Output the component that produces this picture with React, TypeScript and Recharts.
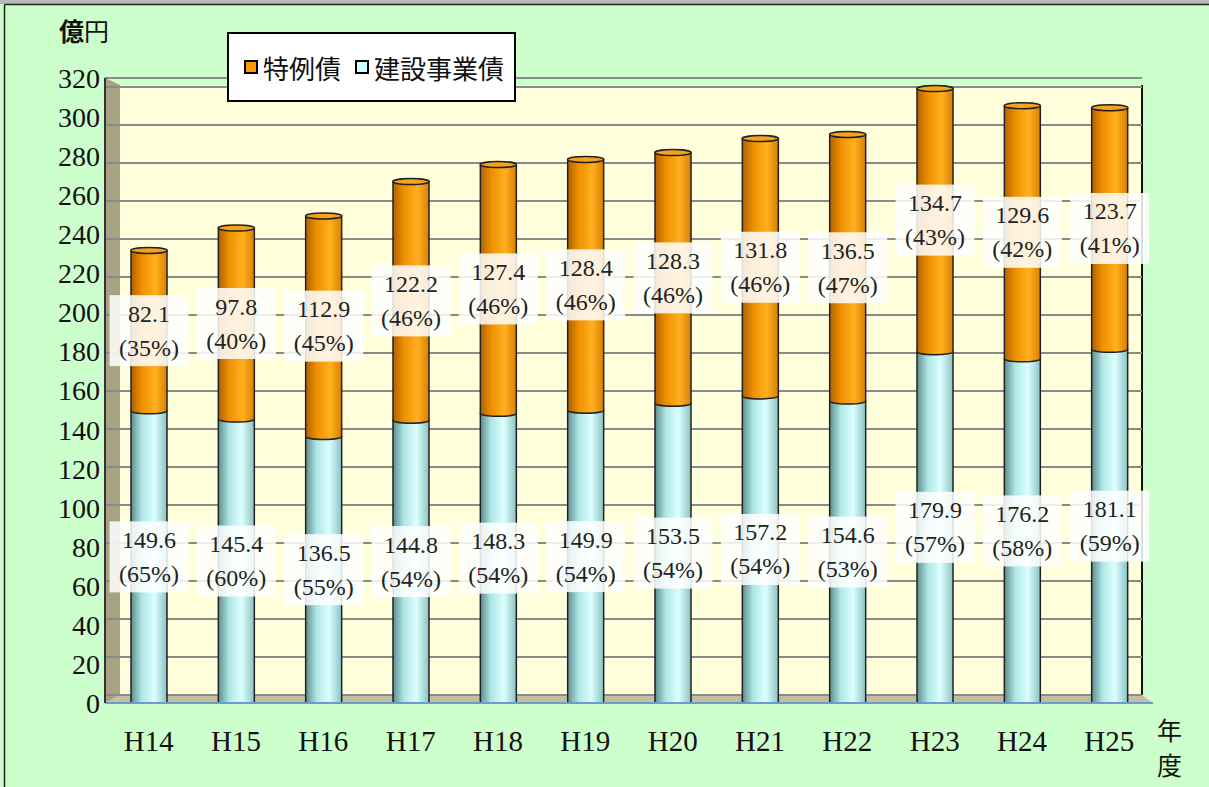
import { BarChart, Bar, XAxis, YAxis, CartesianGrid, Legend, LabelList } from 'recharts';

const categories = ['H14', 'H15', 'H16', 'H17', 'H18', 'H19', 'H20', 'H21', 'H22', 'H23', 'H24', 'H25'];
const kensetsu = [149.6, 145.4, 136.5, 144.8, 148.3, 149.9, 153.5, 157.2, 154.6, 179.9, 176.2, 181.1];
const tokurei = [82.1, 97.8, 112.9, 122.2, 127.4, 128.4, 128.3, 131.8, 136.5, 134.7, 129.6, 123.7];
const kensetsuPct = [65, 60, 55, 54, 54, 54, 54, 54, 53, 57, 58, 59];
const tokureiPct = [35, 40, 45, 46, 46, 46, 46, 46, 47, 43, 42, 41];
const yTicks = [0, 20, 40, 60, 80, 100, 120, 140, 160, 180, 200, 220, 240, 260, 280, 300, 320];
const legendItems = [
  { name: '特例債', color: '#ff9900' },
  { name: '建設事業債', color: '#ccffff' },
];

const data = categories.map((name, i) => ({
  name,
  kensetsu: kensetsu[i],
  tokurei: tokurei[i],
}));

const W = 1209;
const H = 787;
const SERIF = '"Liberation Serif", "DejaVu Serif", serif';
const CJK = '"Noto Sans CJK JP", "Noto Sans", sans-serif';

// cylinder-ish bar body
const Cylinder = (props: any) => {
  const { x, y, width: w, height: h, fill, cap } = props;
  if (!w || !h) return null;
  const ry = 3;
  const d = `M${x},${y} L${x},${y + h} A${w / 2},${ry} 0 0 0 ${x + w},${y + h} L${x + w},${y} Z`;
  return (
    <g>
      <path d={d} fill={fill} stroke="#222" strokeWidth={1.5} />
      {cap && <ellipse cx={x + w / 2} cy={y} rx={w / 2} ry={ry} fill="#f7a21c" stroke="#222" strokeWidth={1.5} />}
    </g>
  );
};

const makeLabel = (pcts: number[]) => (props: any) => {
  const vb = props.viewBox ?? props;
  const x = vb.x ?? props.x;
  const y = vb.y ?? props.y;
  const w = vb.width ?? props.width;
  const h = vb.height ?? props.height;
  const cx = x + w / 2;
  const cy = y + h / 2;
  const idx = props.index;
  const ts = { fontFamily: SERIF, fontSize: 24 };
  return (
    <g>
      <rect x={cx - 39.5} y={cy - 35.5} width={79} height={71} fill="#ffffff" fillOpacity={0.86} />
      <text x={cx} y={cy - 9} textAnchor="middle" style={ts} fill="#222">
        {Number(props.value).toFixed(1)}
      </text>
      <text x={cx} y={cy + 25} textAnchor="middle" style={ts} fill="#222">
        ({pcts[idx]}%)
      </text>
    </g>
  );
};

const renderLegend = () => (
  <div
    style={{
      border: '2px solid #000',
      background: '#fff',
      width: 289,
      height: 70,
      boxSizing: 'border-box',
      display: 'flex',
      alignItems: 'center',
      paddingLeft: 15,
      fontFamily: CJK,
      fontSize: 26,
      color: '#111',
      whiteSpace: 'nowrap',
    }}
  >
    {legendItems.map((it) => (
      <span key={it.name} style={{ display: 'flex', alignItems: 'center', marginRight: 14 }}>
        <span
          style={{
            display: 'inline-block',
            width: 10,
            height: 10,
            border: '2px solid #000',
            background: it.color,
            marginRight: 5,
          }}
        />
        {it.name}
      </span>
    ))}
  </div>
);

export default function App() {
  return (
    <div
      style={{
        position: 'absolute',
        left: 0,
        top: 0,
        width: W,
        height: H,
        background: '#ccffcc',
        overflow: 'hidden',
      }}
    >
      {/* frame + 3D walls behind the chart */}
      <svg width={W} height={H} style={{ position: 'absolute', left: 0, top: 0 }}>
        <rect x={0} y={0} width={W} height={4} fill="#b8b8b8" />
        <line x1={4.5} y1={4.5} x2={W} y2={4.5} stroke="#222" strokeWidth={1.5} />
        <line x1={4.5} y1={4.5} x2={4.5} y2={H} stroke="#222" strokeWidth={1.5} />
        <rect x={120} y={85} width={1022} height={610} fill="#ffffdc" />
        <polygon points="105,78 120,85 120,695 105,703" fill="#a6a283" />
        <polygon points="105,703 120,695 1142,695 1153,703" fill="#c3bf9d" />
        <line x1={1142} y1={85} x2={1142} y2={695} stroke="#111" strokeWidth={2} />
      </svg>
      <div style={{ position: 'absolute', left: 0, top: 0 }}>
        <BarChart width={W} height={H} data={data} margin={{ top: 78, right: 56, bottom: 24, left: 0 }} barSize={36}>
          <defs>
            <linearGradient id="gCyan" x1="0" y1="0" x2="1" y2="0">
              <stop offset="0%" stopColor="#5f8e8e" />
              <stop offset="30%" stopColor="#aee6e6" />
              <stop offset="65%" stopColor="#dcffff" />
              <stop offset="100%" stopColor="#8cc2c2" />
            </linearGradient>
            <linearGradient id="gOrange" x1="0" y1="0" x2="1" y2="0">
              <stop offset="0%" stopColor="#b06200" />
              <stop offset="30%" stopColor="#ee8f00" />
              <stop offset="68%" stopColor="#ffb020" />
              <stop offset="100%" stopColor="#d98000" />
            </linearGradient>
          </defs>
          <YAxis yAxisId="grid" hide domain={[-4.21, 324.7]} ticks={yTicks} allowDataOverflow />
          <CartesianGrid yAxisId="grid" vertical={false} x={105} width={1037} stroke="#8a8a8a" strokeWidth={2} />
          <XAxis
            dataKey="name"
            height={60}
            tickLine={false}
            tickSize={0}
            tickMargin={27}
            axisLine={{ stroke: '#6f9ad0', strokeWidth: 2 }}
            tick={{ fontFamily: SERIF, fontSize: 29, fill: '#111' }}
          />
          <YAxis
            width={105}
            domain={[0, 320]}
            ticks={yTicks}
            allowDataOverflow
            tickLine={false}
            tickSize={0}
            tickMargin={5}
            axisLine={{ stroke: '#333', strokeWidth: 2 }}
            tick={{ fontFamily: SERIF, fontSize: 28, fill: '#111' }}
          />
          <Legend
            layout="horizontal"
            verticalAlign="middle"
            align="center"
            content={renderLegend}
            wrapperStyle={{ left: 227, top: 32, width: 289, height: 70 }}
          />
          <Bar dataKey="kensetsu" name="建設事業債" stackId="a" fill="url(#gCyan)" shape={<Cylinder />} isAnimationActive={false}>
            <LabelList dataKey="kensetsu" content={makeLabel(kensetsuPct)} />
          </Bar>
          <Bar dataKey="tokurei" name="特例債" stackId="a" fill="url(#gOrange)" shape={<Cylinder cap />} isAnimationActive={false}>
            <LabelList dataKey="tokurei" content={makeLabel(tokureiPct)} />
          </Bar>
        </BarChart>
      </div>
      <div style={{ position: 'absolute', left: 59, top: 12, fontFamily: CJK, fontSize: 25, color: '#111' }}>
        <b>億</b>円
      </div>
      <div
        style={{
          position: 'absolute',
          left: 1157,
          top: 712,
          width: 28,
          fontFamily: CJK,
          fontSize: 25,
          lineHeight: '35px',
          color: '#111',
        }}
      >
        年<br />度
      </div>
    </div>
  );
}
